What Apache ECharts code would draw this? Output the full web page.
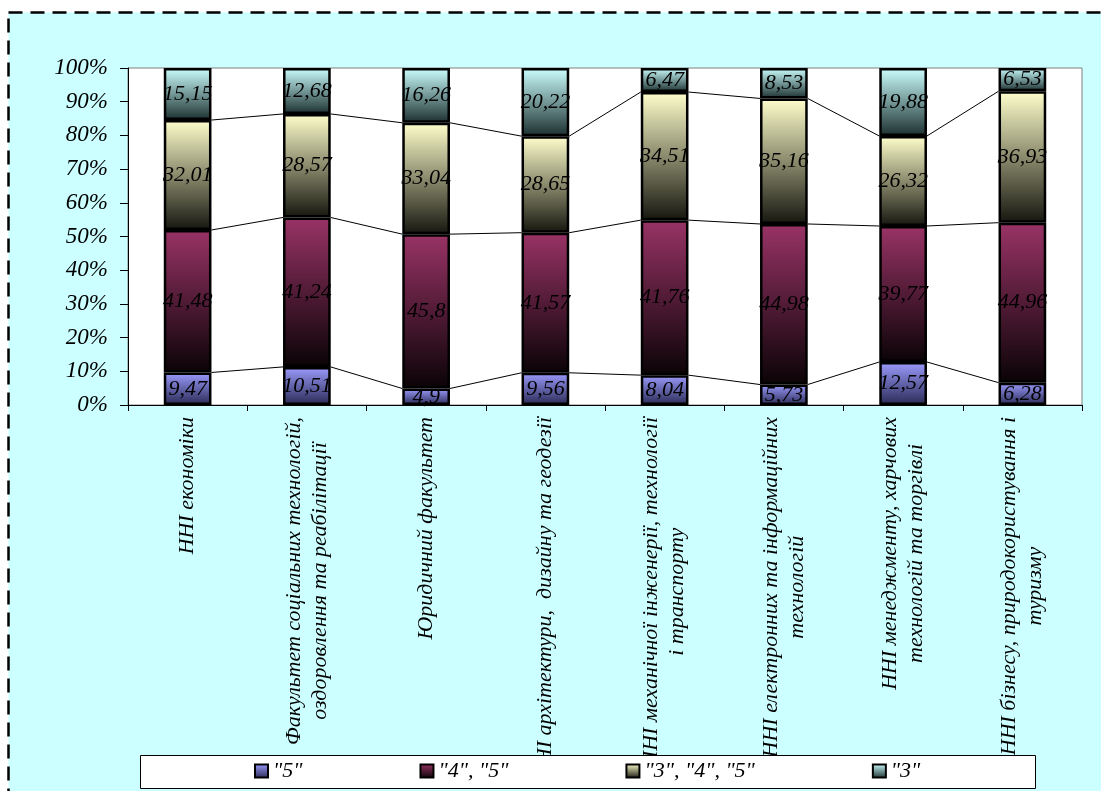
<!DOCTYPE html>
<html>
<head>
<meta charset="utf-8">
<script src="https://cdn.jsdelivr.net/npm/echarts@6/dist/echarts.min.js"></script>
<style>
html,body{margin:0;padding:0;background:#fff;}
#chart{width:1101px;height:791px;}
</style>
</head>
<body>
<div id="chart"></div>
<script>
const categories = [
  'ННІ економіки',
  'Факультет соціальних технологій,\nоздоровлення та реабілітації',
  'Юридичний факультет',
  'ННІ архітектури,  дизайну та геодезії',
  'ННІ механічної інженерії, технології\nі транспорту',
  'ННІ електронних та інформаційних\nтехнологій',
  'ННІ менеджменту, харчових\nтехнологій та торгівлі',
  'ННІ бізнесу, природокористування і\nтуризму'
];
const seriesNames = ['"5"', '"4", "5"', '"3", "4", "5"', '"3"'];
const s5   = [9.47, 10.51, 4.9, 9.56, 8.04, 5.73, 12.57, 6.28];
const s45  = [41.48, 41.24, 45.8, 41.57, 41.76, 44.98, 39.77, 44.96];
const s345 = [32.01, 28.57, 33.04, 28.65, 34.51, 35.16, 26.32, 36.93];
const s3   = [15.15, 12.68, 16.26, 20.22, 6.47, 8.53, 19.88, 6.53];
const yMin = 0, yMax = 100, yStep = 10;

const raw = [s5, s45, s345, s3];
const totals = categories.map((_, i) => raw.reduce((a, s) => a + s[i], 0));
const norm = raw.map(s => s.map((v, i) => v / totals[i] * 100));

const FONT = 'Liberation Serif';
const gradients = [
  ['#9C9CFF', '#2a2a55'],
  ['#993366', '#0a0306'],
  ['#FFFFCC', '#16160f'],
  ['#CCFFFF', '#1c2f2f']
];
function grad(c) {
  return new echarts.graphic.LinearGradient(0, 0, 0, 1, [
    { offset: 0, color: c[0] }, { offset: 1, color: c[1] }
  ]);
}

const barSeries = raw.map((s, k) => ({
  name: seriesNames[k],
  type: 'bar',
  stack: 'total',
  barWidth: '40%',
  data: norm[k],
  itemStyle: { color: grad(gradients[k]), borderColor: '#000', borderWidth: 2.5 },
  label: {
    show: true,
    position: 'inside',
    color: '#000',
    fontFamily: FONT,
    fontStyle: 'italic',
    fontSize: 22,
    formatter: p => String(raw[k][p.dataIndex]).replace('.', ',')
  },
  z: 2
}));

// connector lines between bars (top of first three levels)
const connectorData = [];
for (let k = 0; k < 3; k++) {
  const cum = categories.map((_, i) => {
    let t = 0; for (let j = 0; j <= k; j++) t += norm[j][i]; return t;
  });
  for (let i = 0; i < categories.length - 1; i++) connectorData.push([i, cum[i], cum[i + 1]]);
}

const connectors = {
  type: 'custom',
  name: 'connectors',
  data: connectorData,
  encode: { x: 0, y: [1, 2] },
  z: 3,
  silent: true,
  renderItem: function (params, api) {
    const i = api.value(0);
    const a = api.coord([i, api.value(1)]);
    const b = api.coord([i + 1, api.value(2)]);
    const half = api.size([1, 0])[0] * 0.2;
    return {
      type: 'line',
      shape: { x1: a[0] + half, y1: a[1], x2: b[0] - half, y2: b[1] },
      style: { stroke: '#000', lineWidth: 1 }
    };
  }
};

const chart = echarts.init(document.getElementById('chart'), null, { renderer: 'canvas' });
chart.setOption({
  animation: false,
  backgroundColor: '#fff',
  graphic: [
    {
      type: 'rect', z: -10, silent: true,
      shape: { x: 8.5, y: 12.5, width: 1200, height: 900 },
      style: { fill: '#CCFFFF', stroke: '#000', lineWidth: 2.5, lineDash: [14, 8] }
    },
    {
      type: 'rect', z: 50, silent: true,
      shape: { x: 140.5, y: 755.5, width: 895, height: 33 },
      style: { fill: '#fff', stroke: '#000', lineWidth: 1 }
    }
  ],
  legend: {
    data: seriesNames,
    left: 254,
    top: 759,
    padding: 0,
    z: 100,
    itemGap: 117,
    itemWidth: 13,
    itemHeight: 13,
    icon: 'rect',
    itemStyle: { borderWidth: 2 },
    textStyle: { fontFamily: FONT, fontStyle: 'italic', fontSize: 22, color: '#000', lineHeight: 24 }
  },
  grid: {
    left: 128, right: 19, top: 68, bottom: 386,
    show: true, backgroundColor: '#fff', borderColor: '#808080', borderWidth: 1
  },
  xAxis: {
    type: 'category',
    data: categories,
    axisLine: { lineStyle: { color: '#000', width: 1 } },
    axisTick: { show: true, length: 6, lineStyle: { color: '#000' } },
    axisLabel: {
      interval: 0,
      rotate: 90,
      margin: 12,
      color: '#000',
      fontFamily: FONT,
      fontStyle: 'italic',
      fontSize: 22,
      lineHeight: 26,
      formatter: v => v.split('\n').map(l => '{c|' + l + '}').join('\n'),
      rich: { c: { align: 'center', fontFamily: FONT, fontStyle: 'italic', fontSize: 22, lineHeight: 26, color: '#000' } }
    }
  },
  yAxis: {
    type: 'value',
    min: yMin, max: yMax, interval: yStep,
    axisLine: { show: true, lineStyle: { color: '#000', width: 1 } },
    axisTick: { show: true, length: 8, lineStyle: { color: '#000' } },
    splitLine: { show: false },
    axisLabel: {
      margin: 20,
      color: '#000',
      fontFamily: FONT,
      fontStyle: 'italic',
      fontSize: 23,
      formatter: '{value}%'
    }
  },
  series: [...barSeries, connectors]
});
</script>
</body>
</html>
